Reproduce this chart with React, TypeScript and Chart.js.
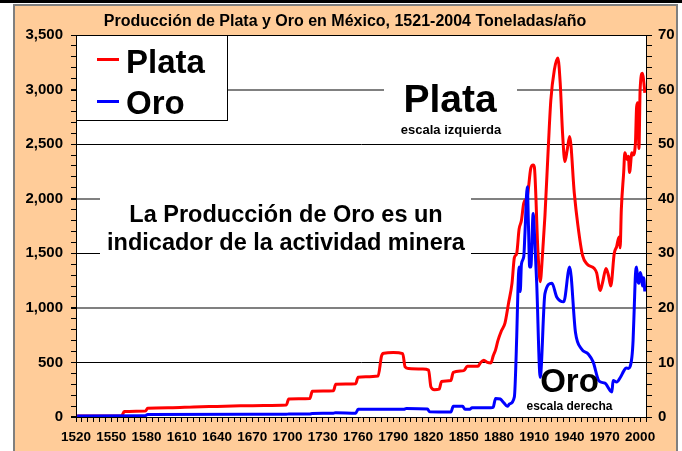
import React, { useEffect, useRef } from "react";
import { Chart, registerables } from "chart.js";

Chart.register(...registerables);

const FONT = "'Liberation Sans', Arial, Helvetica, sans-serif";

const TITLE = "Producción de Plata y Oro en México, 1521-2004 Toneladas/año";
const SERIES_NAMES = ["Plata", "Oro"];
const NOTE_LINES = ["La Producción de Oro es un", "indicador de la actividad minera"];
const PLATA_NOTE = ["Plata", "escala izquierda"];
const ORO_NOTE = ["Oro", "escala derecha"];

// Silver production (tonnes/year), left scale
const plataYears = [
  1521, 1559, 1561, 1579, 1581, 1600, 1620, 1640, 1660, 1680, 1699, 1701, 1719, 1721, 1739, 1741,
  1758, 1760, 1777, 1780, 1782, 1790, 1798, 1800, 1803, 1815, 1820, 1822, 1825, 1829, 1831, 1839,
  1841, 1850, 1853, 1862, 1864, 1867, 1870, 1873, 1875, 1877, 1879, 1882, 1885, 1888, 1891, 1893,
  1895, 1897, 1899, 1901, 1904, 1907, 1909, 1910, 1913, 1915, 1917, 1919, 1922, 1924, 1927, 1930,
  1932, 1934, 1936, 1938, 1940, 1944, 1947, 1951, 1955, 1961, 1963, 1966, 1968, 1971, 1973, 1975,
  1978, 1980, 1982, 1983, 1984, 1986, 1987, 1989, 1990, 1991, 1993, 1994, 1996, 1997, 1998, 1999,
  2000, 2002, 2003, 2004,
];
const plataTons = [
  10, 12, 50, 55, 80, 85, 92, 97, 102, 106, 110, 165, 170, 235, 240, 300,
  305, 365, 375, 560, 585, 590, 580, 460, 445, 440, 430, 275, 250, 255, 325, 335,
  410, 425, 465, 465, 495, 520, 500, 495, 560, 615, 700, 790, 860, 1040, 1227, 1460,
  1500, 1720, 1800, 1960, 2020, 2280, 2310, 2290, 1530, 1240, 1500, 1840, 2500, 2900, 3180, 3290,
  3060, 2600, 2340, 2450, 2570, 2050, 1760, 1480, 1400, 1360, 1320, 1160, 1230, 1360, 1300, 1200,
  1500, 1560, 1650, 1550, 1900, 2240, 2420, 2360, 2390, 2240, 2420, 2400, 2510, 2840, 2880, 2460,
  3000, 3150, 3080, 2970,
];

// Gold production (tonnes/year), right scale
const oroYears = [
  1521, 1579, 1581, 1699, 1701, 1719, 1721, 1739, 1741, 1758, 1760, 1799, 1801, 1819, 1821, 1839,
  1841, 1849, 1851, 1855, 1857, 1873, 1875, 1877, 1881, 1884, 1887, 1889, 1893, 1895, 1896, 1897,
  1898, 1899, 1901, 1902, 1904, 1905, 1906, 1907, 1909, 1910, 1912, 1915, 1919, 1925, 1929, 1935,
  1940, 1945, 1950, 1956, 1960, 1965, 1970, 1976, 1977, 1980, 1983, 1986, 1988, 1990, 1993, 1994,
  1995, 1996, 1997, 1998, 1999, 2000, 2001, 2002, 2003, 2004,
];
const oroTons = [
  0.2, 0.25, 0.45, 0.5, 0.55, 0.55, 0.65, 0.7, 0.8, 0.7, 1.4, 1.4, 1.55, 1.45, 0.95, 0.9,
  1.95, 1.95, 1.4, 1.4, 1.7, 1.7, 1.8, 3.4, 3.3, 2.6, 1.95, 2.4, 3.7, 14.7, 23, 27.5,
  23, 28, 29.4, 33.7, 42.2, 35, 27.5, 27.5, 37.3, 34, 24.5, 7.3, 22.6, 24.5, 22, 21.1,
  27.5, 15.5, 12.5, 11.5, 10.1, 6.6, 6.2, 4.6, 6.7, 6.4, 7.2, 8.4, 9.0, 8.9, 11, 14,
  20, 26, 27.5, 25, 24.5, 26.5, 25.8, 24, 25.5, 23,
];

// Axis ticks
const xLabelYears = [1520, 1550, 1580, 1610, 1640, 1670, 1700, 1730, 1760, 1790, 1820, 1850, 1880, 1910, 1940, 1970, 2000];
const leftTickLabels = [0, 500, 1000, 1500, 2000, 2500, 3000, 3500];
const rightTickLabels = [0, 10, 20, 30, 40, 50, 60, 70];

const X_MIN = 1520;
const X_MAX = 2005;

function range(from: number, to: number, step: number) {
  const out: number[] = [];
  for (let v = from; v <= to + 1e-9; v += step) out.push(Math.round(v * 100) / 100);
  return out;
}

const decorPlugin = {
  id: "decor",
  beforeDraw(chart: any) {
    const { ctx, chartArea: a } = chart;
    ctx.save();
    ctx.fillStyle = "#ffffff";
    ctx.fillRect(a.left, a.top, a.right - a.left, a.bottom - a.top);
    ctx.restore();
  },
  beforeDatasetsDraw(chart: any) {
    const { ctx } = chart;
    ctx.save();
    ctx.fillStyle = "#ffffff";
    // background behind "Plata" note
    ctx.fillRect(384, 70, 133, 68);
    // background behind the central note
    ctx.fillRect(100, 190, 371, 74);
    ctx.restore();
  },
  afterDraw(chart: any) {
    const { ctx, chartArea: a } = chart;
    ctx.save();
    // top frame line
    ctx.strokeStyle = "#000";
    ctx.lineWidth = 1;
    ctx.beginPath();
    ctx.moveTo(a.left, Math.round(a.top) + 0.5);
    ctx.lineTo(a.right, Math.round(a.top) + 0.5);
    ctx.stroke();

    // title
    ctx.fillStyle = "#000";
    ctx.textAlign = "center";
    ctx.textBaseline = "alphabetic";
    ctx.font = `bold 16px ${FONT}`;
    ctx.fillText(TITLE, 345, 26);

    // legend
    ctx.fillStyle = "#fff";
    ctx.fillRect(a.left, a.top, 152, 86);
    ctx.strokeStyle = "#000";
    ctx.lineWidth = 1;
    ctx.strokeRect(a.left + 0.5, a.top + 0.5, 151, 85);
    const colors = ["#ff0000", "#0000ff"];
    const rowY = [59.5, 101.5];
    const baseY = [73, 114];
    ctx.font = `bold 33px ${FONT}`;
    ctx.textAlign = "left";
    SERIES_NAMES.forEach((name, i) => {
      ctx.strokeStyle = colors[i];
      ctx.lineWidth = 3;
      ctx.beginPath();
      ctx.moveTo(97, rowY[i]);
      ctx.lineTo(119, rowY[i]);
      ctx.stroke();
      ctx.fillStyle = "#000";
      ctx.fillText(name, 126, baseY[i]);
    });

    // Plata note
    ctx.textAlign = "center";
    ctx.fillStyle = "#000";
    ctx.font = `bold 39px ${FONT}`;
    ctx.fillText(PLATA_NOTE[0], 450, 112);
    ctx.font = `bold 13px ${FONT}`;
    ctx.fillText(PLATA_NOTE[1], 451, 133.5);

    // central note
    ctx.font = `bold 23.5px ${FONT}`;
    ctx.fillText(NOTE_LINES[0], 286, 222);
    ctx.fillText(NOTE_LINES[1], 286, 250);

    // Oro note
    ctx.font = `bold 33px ${FONT}`;
    ctx.fillText(ORO_NOTE[0], 569.5, 392);
    ctx.font = `bold 12px ${FONT}`;
    ctx.fillText(ORO_NOTE[1], 569.5, 409.5);
    ctx.restore();
  },
};

export default function App() {
  const canvasRef = useRef<HTMLCanvasElement | null>(null);

  useEffect(() => {
    const canvas = canvasRef.current;
    if (!canvas) return;

    const plataData = plataYears.map((x, i) => ({ x, y: plataTons[i] }));
    const oroData = oroYears.map((x, i) => ({ x, y: oroTons[i] }));

    const chart = new Chart(canvas, {
      type: "line",
      data: {
        datasets: [
          {
            label: SERIES_NAMES[0],
            data: plataData,
            yAxisID: "y",
            borderColor: "#ff0000",
            backgroundColor: "#ff0000",
            borderWidth: 3,
            pointRadius: 0,
            cubicInterpolationMode: "monotone",
            order: 2,
          },
          {
            label: SERIES_NAMES[1],
            data: oroData,
            yAxisID: "y1",
            borderColor: "#0000ff",
            backgroundColor: "#0000ff",
            borderWidth: 3,
            pointRadius: 0,
            cubicInterpolationMode: "monotone",
            order: 1,
          },
        ],
      },
      options: {
        responsive: false,
        animation: false,
        devicePixelRatio: 1,
        layout: { padding: { top: 35, left: 0, right: 0, bottom: 0 } },
        plugins: {
          legend: { display: false },
          title: { display: false },
          tooltip: { enabled: false },
        },
        events: [],
        scales: {
          x: {
            type: "linear",
            min: X_MIN,
            max: X_MAX,
            afterBuildTicks: (scale: any) => {
              scale.ticks = range(X_MIN, X_MAX, 5).map((v) => ({ value: v }));
            },
            afterFit: (scale: any) => {
              scale.height = 34;
            },
            grid: {
              drawOnChartArea: false,
              drawTicks: true,
              tickLength: 5,
              color: "#000",
              tickColor: "#000",
            },
            border: { display: true, color: "#000", width: 1 },
            ticks: {
              autoSkip: false,
              maxRotation: 0,
              minRotation: 0,
              padding: 7,
              color: "#000",
              font: { family: FONT, size: 13.5, weight: "bold" },
              callback: (v: any) => (xLabelYears.includes(Number(v)) ? String(v) : ""),
            },
          },
          y: {
            type: "linear",
            position: "left",
            min: 0,
            max: 3500,
            afterBuildTicks: (scale: any) => {
              scale.ticks = range(0, 3500, 100).map((v) => ({ value: v }));
            },
            afterFit: (scale: any) => {
              scale.width = 76;
            },
            grid: {
              drawOnChartArea: true,
              drawTicks: true,
              tickLength: 5,
              tickColor: "#000",
              color: (ctx: any) => {
                const v = ctx.tick ? ctx.tick.value : -1;
                if (v <= 0 || v >= 3500 || v % 500 !== 0) return "rgba(0,0,0,0)";
                return v % 1000 === 0 ? "#808080" : "#000000";
              },
              lineWidth: (ctx: any) => {
                const v = ctx.tick ? ctx.tick.value : -1;
                return v % 1000 === 0 ? 2 : 1;
              },
            },
            border: { display: true, color: "#000", width: 1 },
            ticks: {
              autoSkip: false,
              padding: 8,
              color: "#000",
              font: { family: FONT, size: 15, weight: "bold" },
              callback: (v: any) =>
                leftTickLabels.includes(Number(v)) ? Number(v).toLocaleString("en-US") : "",
            },
          },
          y1: {
            type: "linear",
            position: "right",
            min: 0,
            max: 70,
            afterBuildTicks: (scale: any) => {
              scale.ticks = range(0, 70, 2).map((v) => ({ value: v }));
            },
            afterFit: (scale: any) => {
              scale.width = 36;
            },
            grid: {
              drawOnChartArea: false,
              drawTicks: true,
              tickLength: 6,
              color: "#000",
              tickColor: "#000",
            },
            border: { display: true, color: "#000", width: 1 },
            ticks: {
              autoSkip: false,
              padding: 6,
              color: "#000",
              font: { family: FONT, size: 15, weight: "bold" },
              callback: (v: any) => (rightTickLabels.includes(Number(v)) ? String(v) : ""),
            },
          },
        },
      },
      plugins: [decorPlugin],
    } as any);

    return () => {
      chart.destroy();
    };
  }, []);

  return (
    <div
      style={{
        position: "absolute",
        left: 0,
        top: 0,
        width: 682,
        height: 451,
        overflow: "hidden",
        background: "#ffffff",
      }}
    >
      <div style={{ position: "absolute", left: 0, top: 0, width: 682, height: 3, background: "#000" }} />
      <div
        style={{
          position: "absolute",
          left: 13,
          top: 4,
          width: 665,
          height: 470,
          boxSizing: "border-box",
          border: "2px solid #7f7f7f",
          background: "#ffcc99",
        }}
      />
      <canvas
        ref={canvasRef}
        width={682}
        height={451}
        style={{ position: "absolute", left: 0, top: 0, width: 682, height: 451 }}
      />
    </div>
  );
}
